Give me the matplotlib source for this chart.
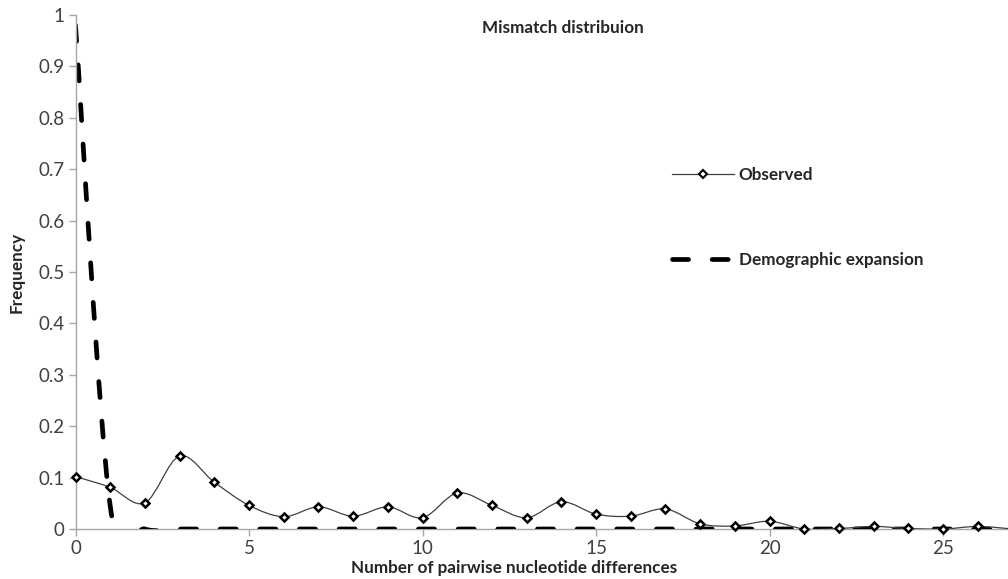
import numpy as np
import matplotlib.pyplot as plt
from matplotlib.path import Path
from matplotlib.patches import PathPatch
from matplotlib.lines import Line2D

plt.rcParams['font.family'] = ['Lato', 'DejaVu Sans']

differences = [0, 1, 2, 3, 4, 5, 6, 7, 8, 9, 10, 11, 12, 13,
               14, 15, 16, 17, 18, 19, 20, 21, 22, 23, 24, 25, 26, 27]
observed = [0.102, 0.081, 0.051, 0.142, 0.091, 0.046, 0.024, 0.043, 0.025, 0.043,
            0.022, 0.070, 0.046, 0.022, 0.053, 0.029, 0.025, 0.039, 0.010, 0.006,
            0.015, 0.000, 0.001, 0.005, 0.001, 0.000, 0.005, 0.000]
expansion = [0.98, 0.045, 0.0, 0.0, 0.0, 0.0, 0.0, 0.0, 0.0, 0.0,
             0.0, 0.0, 0.0, 0.0, 0.0, 0.0, 0.0, 0.0, 0.0, 0.0,
             0.0, 0.0, 0.0, 0.0, 0.0, 0.0, 0.0, 0.0]
x_ticks = [0, 5, 10, 15, 20, 25]
y_ticks = [0, 0.1, 0.2, 0.3, 0.4, 0.5, 0.6, 0.7, 0.8, 0.9, 1]
y_ticklabels = ['0', '0.1', '0.2', '0.3', '0.4', '0.5', '0.6', '0.7', '0.8', '0.9', '1']


def smooth_path(x, y):
    # Excel-style smoothed line: cubic bezier through every point
    pts = np.column_stack([x, y]).astype(float)
    n = len(pts)
    verts = [pts[0]]
    codes = [Path.MOVETO]
    for i in range(n - 1):
        p0 = pts[max(i - 1, 0)]
        p1 = pts[i]
        p2 = pts[i + 1]
        p3 = pts[min(i + 2, n - 1)]
        verts += [p1 + (p2 - p0) / 6, p2 - (p3 - p1) / 6, p2]
        codes += [Path.CURVE4] * 3
    return Path(verts, codes)


W, H = 1008, 579
fig = plt.figure(figsize=(W / 100, H / 100), dpi=100)
ax = fig.add_axes([75.5 / W, 1 - 529 / H, (W - 75.5) / W, 514 / H])

dash_style = (0, (3.4, 5.0))
ax.add_patch(PathPatch(smooth_path(differences, expansion), fill=False,
                       edgecolor='black', linewidth=3.4, linestyle=dash_style,
                       capstyle='round', zorder=2))
ax.add_patch(PathPatch(smooth_path(differences, observed), fill=False,
                       edgecolor='#404040', linewidth=0.9, zorder=3))
ax.plot(differences, observed, linestyle='none', marker='D', markersize=4.3,
        markerfacecolor='white', markeredgecolor='black', markeredgewidth=1.8,
        zorder=4, clip_on=False)

ax.set_xlim(0, 26.87)
ax.set_ylim(0, 1)
ax.set_xticks(x_ticks)
ax.set_yticks(y_ticks)
ax.set_yticklabels(y_ticklabels)

for side in ['top', 'right']:
    ax.spines[side].set_visible(False)
for side in ['left', 'bottom']:
    ax.spines[side].set_color('#a6a6a6')
    ax.spines[side].set_linewidth(1)
ax.spines['bottom'].set_zorder(1)

ax.tick_params(axis='both', direction='out', length=5, width=1, color='#a6a6a6',
               labelsize=13.5, labelcolor='#404040')
ax.tick_params(axis='y', pad=3)
ax.tick_params(axis='x', pad=3)

label_font = dict(fontsize=12.3, fontweight='bold', color='#262626')
ax.set_xlabel('Number of pairwise nucleotide differences', **label_font)
ax.xaxis.set_label_coords((514 - 75.5) / (W - 75.5), (529 - 560) / 514)
ax.set_ylabel('Frequency', **label_font)
ax.yaxis.set_label_coords((25 - 75.5) / (W - 75.5), 0.5)

fig.text(563 / W, 1 - 28 / H, 'Mismatch distribuion', ha='center', va='center',
         **label_font)

handles = [
    Line2D([], [], color='#404040', linewidth=0.9, marker='D', markersize=4,
           markerfacecolor='white', markeredgecolor='black', markeredgewidth=1.5),
    Line2D([], [], color='black', linewidth=3.4, linestyle=(0, (3.4, 5.0)),
           dash_capstyle='round'),
]
ax.legend(handles, ['Observed', 'Demographic expansion'], frameon=False,
          loc='upper left', bbox_to_anchor=(672 / W, 1 - 167 / H),
          bbox_transform=fig.transFigure, borderpad=0, borderaxespad=0,
          handlelength=3.6, handletextpad=0.3, labelspacing=4.05,
          prop={'size': 12.3, 'weight': 'bold'}, labelcolor='#262626')

fig.savefig('out.png', dpi=100)
